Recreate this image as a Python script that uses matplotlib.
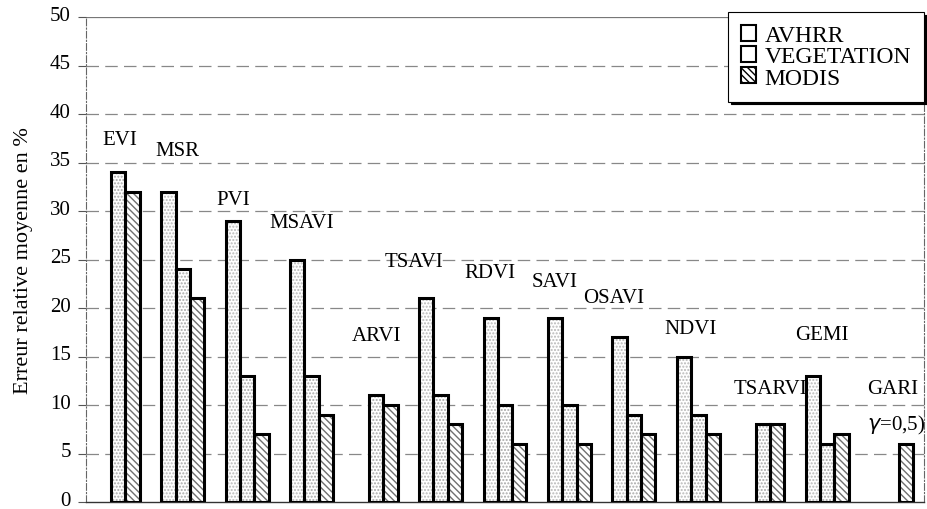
import numpy as np
import matplotlib
matplotlib.use("Agg")
import matplotlib.pyplot as plt
from matplotlib.patches import Patch
from matplotlib.transforms import ScaledTranslation

plt.rcParams['font.family'] = ['Liberation Serif', 'DejaVu Serif']

# data (NaN = no bar)
indices = ['EVI', 'MSR', 'PVI', 'MSAVI', 'ARVI', 'TSAVI', 'RDVI', 'SAVI',
           'OSAVI', 'NDVI', 'TSARVI', 'GEMI', 'GARI']
avhrr = [np.nan, 32, 29, 25, np.nan, 21, 19, 19, 17, 15, np.nan, 13, np.nan]
vegetation = [34, 24, 13, 13, 11, 11, 10, 10, 9, 9, 8, 6, np.nan]
modis = [32, 21, 7, 9, 10, 8, 6, 6, 7, 7, 8, 7, 6]
series_names = ['AVHRR', 'VEGETATION', 'MODIS']

# where the index names are written (x in group units, y in %)
label_pos = [(-0.24, 37.4), (0.57, 36.2), (1.53, 31.2), (2.35, 28.8),
             (3.62, 17.2), (4.13, 24.8), (5.37, 23.7), (6.42, 22.7),
             (7.21, 21.1), (8.47, 17.9), (9.55, 11.7), (10.5, 17.3),
             (11.61, 11.7)]

fig = plt.figure(figsize=(9.27, 5.10), dpi=100)
ax = fig.add_axes([86 / 927, 1 - 503 / 510, (924 - 86) / 927, (503 - 18) / 510])

x = np.arange(len(indices))
w = 1 / 4.5
styles = [dict(hatch='.....', hc='#b8b8b8'),
          dict(hatch='.....', hc='#a8a8a8'),
          dict(hatch='\\\\\\\\\\', hc='#707070')]

for k, vals in enumerate([avhrr, vegetation, modis]):
    pos = x - 1.5 * w + (k + 0.5) * w
    vals = np.array(vals, dtype=float)
    ax.bar(pos, vals, w, color='white', edgecolor=styles[k]['hc'],
           hatch=styles[k]['hatch'], linewidth=0, zorder=2)
    ax.bar(pos, vals, w, fill=False, edgecolor='black', linewidth=2.2, zorder=3)

# index names sit over the grid but under the bar outlines
for name, (lx, ly) in zip(indices, label_pos):
    ax.text(lx, ly, name, fontsize=15, ha='left', va='center', zorder=2.5)
ax.text(11.62, 8.0, r'$\gamma$=0,5)', fontsize=15, ha='left', va='center',
        zorder=2.5, clip_on=False)

ax.set_xlim(-0.5, len(indices) - 0.5)
ax.set_ylim(0, 50)
ax.set_yticks(np.arange(0, 51, 5))
ax.tick_params(axis='y', labelsize=15, length=6, width=0.8, color='#555555', pad=5)
# lift the tick labels a little so the "0" is not cut at the bottom
lift = ScaledTranslation(0, 3 / 72, fig.dpi_scale_trans)
for tick in ax.yaxis.get_major_ticks():
    tick.label1.set_transform(tick.label1.get_transform() + lift)
ax.set_xticks([])
ax.set_ylabel('Erreur relative moyenne en %', fontsize=16, labelpad=12)

for yv in np.arange(5, 50, 5):
    ax.axhline(yv, color='#888888', lw=0.9, ls=(0, (10, 5)), zorder=1)
ax.axhline(50, color='#777777', lw=0.9, zorder=1)

for s in ['left', 'right']:
    ax.spines[s].set_linestyle((0, (6, 2, 1, 2)))
    ax.spines[s].set_color('#666666')
    ax.spines[s].set_linewidth(0.8)
ax.spines['top'].set_visible(False)
ax.spines['bottom'].set_color('#333333')
ax.spines['bottom'].set_linewidth(1.0)

handles = [Patch(facecolor='white', edgecolor='black', hatch=s['hatch'] if i == 2 else None,
                 linewidth=1.5) for i, s in enumerate(styles)]
leg = ax.legend(handles, series_names, loc='upper right', bbox_to_anchor=(1.0, 1.01),
                fontsize=17, frameon=True, fancybox=False,
                shadow={'color': 'black', 'alpha': 1},
                handlelength=0.65, handleheight=0.65, handletextpad=0.35,
                labelspacing=0.0, borderpad=0.55, borderaxespad=0)
leg.get_frame().set_edgecolor('black')
leg.get_frame().set_linewidth(0.8)
leg.set_zorder(5)

fig.savefig('out.png', dpi=100)
